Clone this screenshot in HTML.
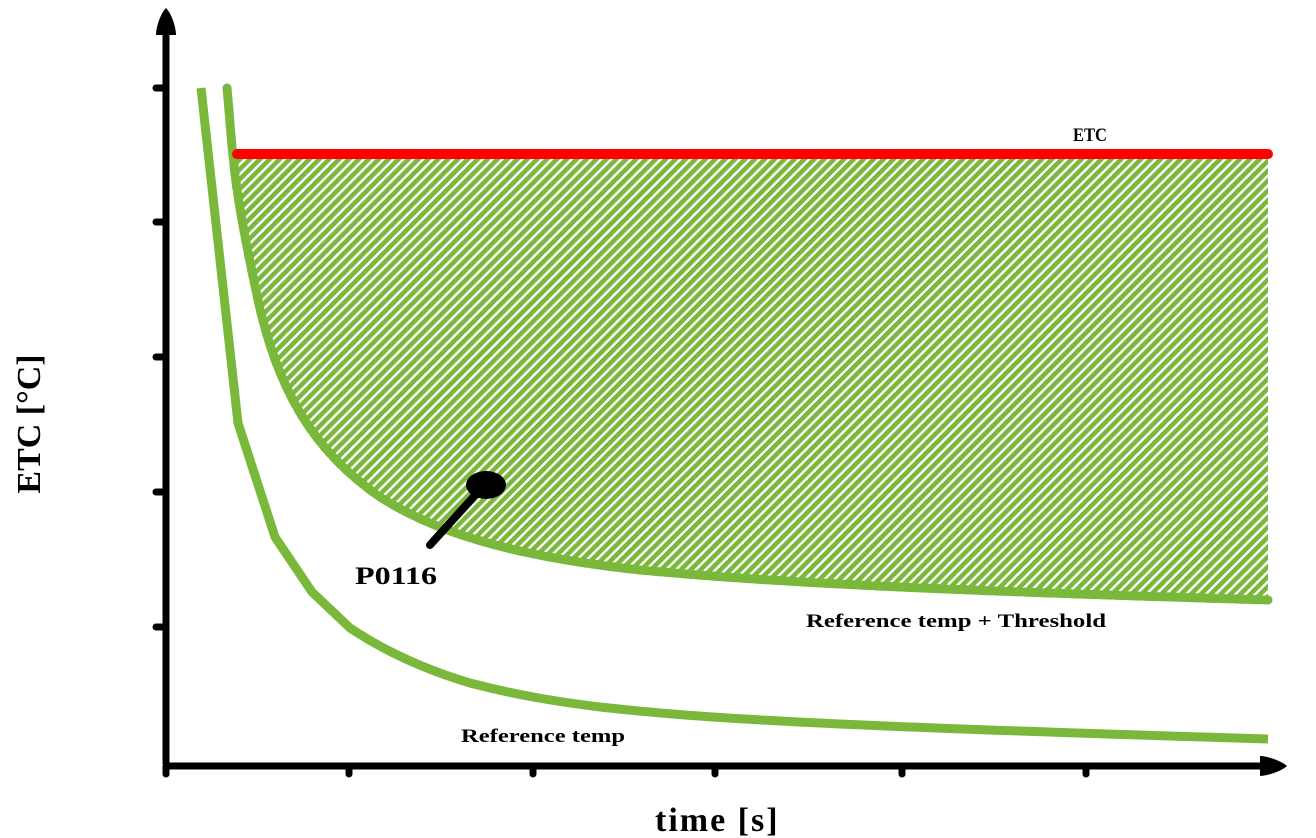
<!DOCTYPE html>
<html><head><style>
html,body{margin:0;padding:0;background:#fff;}
svg{display:block;}
text{font-family:"Liberation Serif",serif;font-weight:bold;fill:#000;}
</style></head><body>
<svg width="1316" height="838" viewBox="0 0 1316 838" xmlns="http://www.w3.org/2000/svg">
<defs>
<pattern id="h" patternUnits="userSpaceOnUse" width="7" height="7" patternTransform="rotate(45)">
<rect width="7" height="7" fill="#fff"/>
<rect x="0" y="0" width="4.6" height="7" fill="#7ab83c"/>
</pattern>
</defs>
<path d="M233,155 L1268,155 L1268,600 C1000,592 800,585 640,570 C520,557 440,535 380,497 C320,455 280,400 258,300 C243,230 236,190 233,155 Z" fill="url(#h)"/>
<path d="M227,88 C230,120 231,140 233,155 C236,190 243,230 258,300 C280,400 320,455 380,497 C440,535 520,557 640,570 C800,585 1000,592 1268,600" fill="none" stroke="#7ab83c" stroke-width="9" stroke-dasharray="12 3" stroke-linecap="round"/>
<path d="M201,88 L238,423 L275,537 L312,592 L350,628 C380,648 420,668 470,683 C520,696 560,702 600,707 C700,718 800,725 1268,739" fill="none" stroke="#7ab83c" stroke-width="9"/>
<line x1="237" y1="154" x2="1268" y2="154" stroke="#f00" stroke-width="10" stroke-linecap="round"/>
<line x1="166" y1="30" x2="166" y2="764" stroke="#000" stroke-width="7"/>
<line x1="163" y1="766" x2="1270" y2="766" stroke="#000" stroke-width="7"/>
<path d="M166,8 C160,14 156,28 156,35 L176,35 C176,28 172,14 166,8 Z" fill="#000"/>
<path d="M1287,766 C1280,760 1266,756 1260,756 L1260,776 C1266,776 1280,772 1287,766 Z" fill="#000"/>
<g stroke="#000" stroke-width="7" stroke-linecap="round">
<line x1="156" y1="88" x2="166" y2="88"/>
<line x1="156" y1="222" x2="166" y2="222"/>
<line x1="156" y1="357" x2="166" y2="357"/>
<line x1="156" y1="492" x2="166" y2="492"/>
<line x1="156" y1="627" x2="166" y2="627"/>
<line x1="349" y1="766" x2="349" y2="774"/>
<line x1="533" y1="766" x2="533" y2="774"/>
<line x1="715" y1="766" x2="715" y2="774"/>
<line x1="902" y1="766" x2="902" y2="774"/>
<line x1="1086" y1="766" x2="1086" y2="774"/>
<line x1="166" y1="766" x2="166" y2="774"/>
</g>
<line x1="430" y1="545" x2="478" y2="492" stroke="#000" stroke-width="8" stroke-linecap="round"/>
<ellipse cx="486" cy="485" rx="20" ry="14" fill="#000"/>
<text x="355" y="584" font-size="25" textLength="82" lengthAdjust="spacingAndGlyphs">P0116</text>
<text x="1073" y="141" font-size="19" textLength="34" lengthAdjust="spacingAndGlyphs">ETC</text>
<text x="806" y="627" font-size="19" textLength="300" lengthAdjust="spacingAndGlyphs">Reference temp + Threshold</text>
<text x="461" y="742" font-size="19" textLength="164" lengthAdjust="spacingAndGlyphs">Reference temp</text>
<text x="655" y="831" font-size="34" letter-spacing="2">time [s]</text>
<text transform="translate(40,424) rotate(-90)" font-size="34" text-anchor="middle">ETC [°C]</text>
</svg>
</body></html>
